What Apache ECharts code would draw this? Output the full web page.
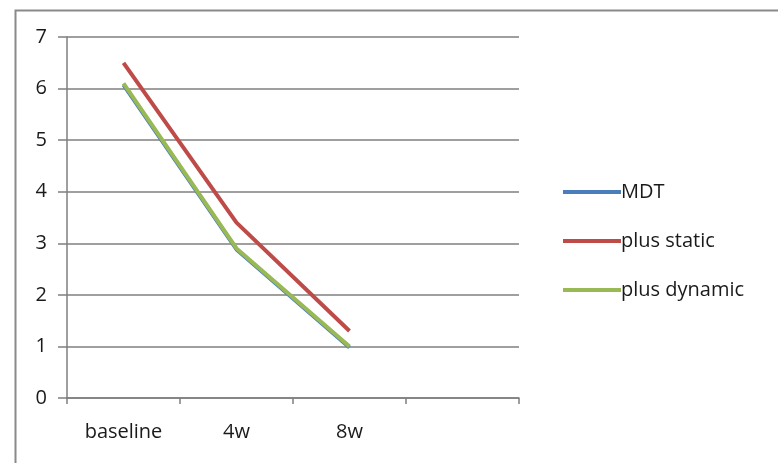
<!DOCTYPE html>
<html><head><meta charset="utf-8">
<script src="https://cdn.jsdelivr.net/npm/echarts@6/dist/echarts.min.js"></script>
<style>html,body{margin:0;padding:0;background:#fff}#c{width:778px;height:463px}</style>
</head><body><div id="c"></div>
<script>
const categories = ['baseline', '4w', '8w', ''];
const mdt = [6.07, 2.88, 0.98];
const plusStatic = [6.5, 3.4, 1.3];
const plusDynamic = [6.1, 2.9, 1.0];
const yTicks = [0, 1, 2, 3, 4, 5, 6, 7];

const chart = echarts.init(document.getElementById('c'));
const font = 'Open Sans, Noto Sans, sans-serif';
const fs = 20;
chart.setOption({
  animation: false,
  backgroundColor: '#fff',
  graphic: [{
    type: 'rect', left: 13, top: 8, shape: {width: 800, height: 500},
    style: {fill: 'none', stroke: '#8a8a8a', lineWidth: 2}, silent: true
  }],
  grid: {left: 67, right: 259, top: 37, bottom: 65},
  legend: {
    orient: 'vertical', left: 558, top: 177, itemGap: 29,
    itemWidth: 58, itemHeight: 14, icon: 'path://M0,5L58,5L58,9L0,9Z',
    textStyle: {fontFamily: font, fontSize: fs, color: '#1a1a1a', padding: [0,0,0,-5]},
    data: ['MDT', 'plus static', 'plus dynamic']
  },
  xAxis: {
    type: 'category', data: categories, boundaryGap: true,
    axisLine: {lineStyle: {color: '#7f7f7f', width: 1.5}},
    axisTick: {show: true, length: 6, lineStyle: {color: '#7f7f7f', width: 1.5}},
    axisLabel: {fontFamily: font, fontSize: fs, color: '#1a1a1a', margin: 24}
  },
  yAxis: {
    type: 'value', min: yTicks[0], max: yTicks[yTicks.length - 1], interval: 1,
    axisLine: {show: true, lineStyle: {color: '#7f7f7f', width: 1.5}},
    axisTick: {show: true, length: 9, lineStyle: {color: '#7f7f7f', width: 1.5}},
    splitLine: {lineStyle: {color: '#7f7f7f', width: 1.5}},
    axisLabel: {fontFamily: font, fontSize: fs, color: '#1a1a1a', margin: 20}
  },
  series: [
    {name: 'MDT', type: 'line', data: mdt, symbol: 'none', lineStyle: {width: 4, color: '#4a7ebb'}, itemStyle: {color: '#4a7ebb'}},
    {name: 'plus static', type: 'line', data: plusStatic, symbol: 'none', lineStyle: {width: 4, color: '#be4b48'}, itemStyle: {color: '#be4b48'}},
    {name: 'plus dynamic', type: 'line', data: plusDynamic, symbol: 'none', lineStyle: {width: 4, color: '#98b954'}, itemStyle: {color: '#98b954'}}
  ]
});
</script></body></html>
